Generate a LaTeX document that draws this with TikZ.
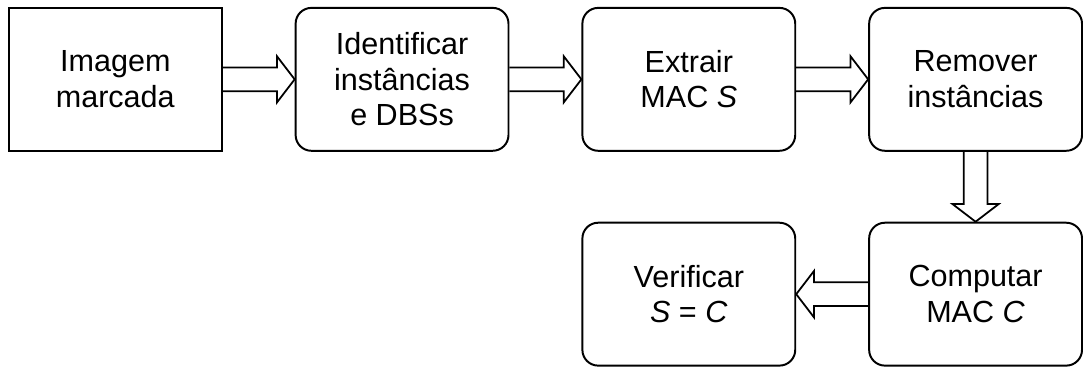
\documentclass[tikz,border=0pt]{standalone}
\usepackage{fontspec}
\setmainfont{Liberation Sans}
\usetikzlibrary{positioning,calc}

\tikzset{
  stepbox/.style={draw, line width=1pt, minimum width=108pt, minimum height=72.5pt,
    align=center, font=\fontsize{15.5}{18}\selectfont},
  roundbox/.style={stepbox, rounded corners=8pt},
  blockarrow/.style={line width=0.9pt, line join=miter}
}
% hollow block arrow from #1 to #2
\newcommand{\blockto}[2]{%
  \draw[blockarrow] ($(#1)!6pt!90:(#2)$) -- ($(#2)!9pt!(#1)!6pt!90:(#2)$)
    -- ($(#2)!9pt!(#1)!11.75pt!90:(#2)$) -- (#2)
    -- ($(#2)!9pt!(#1)!11.75pt!-90:(#2)$) -- ($(#2)!9pt!(#1)!6pt!-90:(#2)$)
    -- ($(#1)!6pt!-90:(#2)$);}

\begin{document}
\begin{tikzpicture}[node distance=36.5pt]
  \node[stepbox]  (Img)                     {Imagem\\marcada};
  \node[roundbox] (Ident) [right=of Img]    {Identificar\\instâncias\\e DBSs};
  \node[roundbox] (Extr)  [right=of Ident]  {Extrair\\MAC \textit{S}};
  \node[roundbox] (Rem)   [right=of Extr]   {Remover\\instâncias};
  \node[roundbox] (Comp)  [below=35.5pt of Rem] {Computar\\MAC \textit{C}};
  \node[roundbox] (Verif) [left=of Comp]    {Verificar\\\textit{S} = \textit{C}};

  \useasboundingbox ($(Img.north west)+(-4pt,3.5pt)$) rectangle ++(541.5pt,-183.5pt);

  \blockto{Img.east}{Ident.west}
  \blockto{Ident.east}{Extr.west}
  \blockto{Extr.east}{Rem.west}
  \blockto{Rem.south}{Comp.north}
  \blockto{Comp.west}{Verif.east}
\end{tikzpicture}
\end{document}
